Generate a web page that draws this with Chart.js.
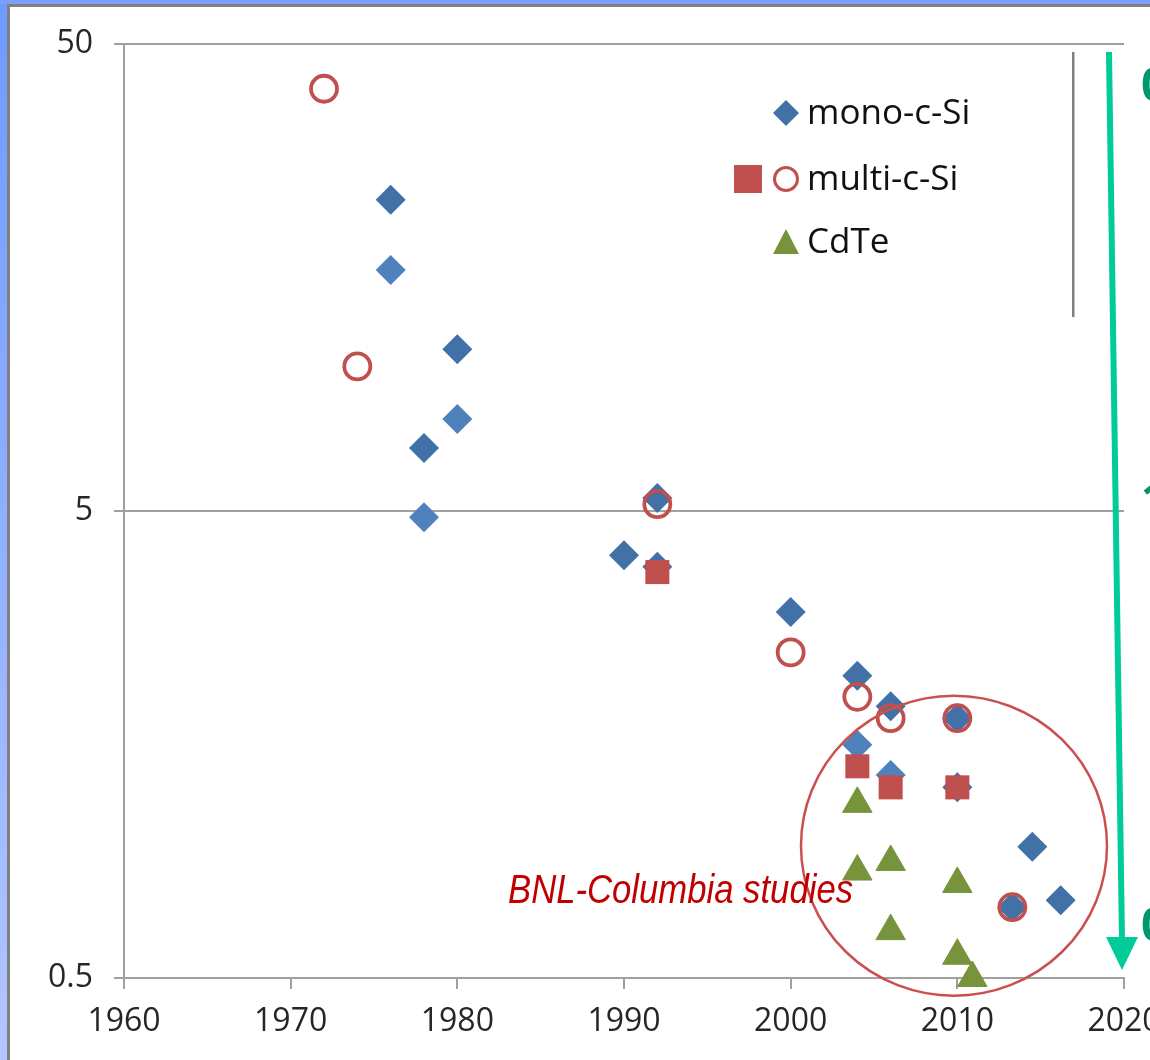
<!DOCTYPE html>
<html>
<head>
<meta charset="utf-8">
<script src="https://cdn.jsdelivr.net/npm/chart.js@4.4.1/dist/chart.umd.min.js"></script>
<style>
  body { margin: 0; background: #fff; }
  canvas { display: block; }
</style>
</head>
<body>
<canvas id="chart" width="1150" height="1060"></canvas>
<script>
// values (log y axis)
const monoYears = [1976, 1980, 1978, 1990, 1992, 1992, 2000, 2004, 2006, 2010, 2010, 2013.3, 2014.5, 2016.2];
const monoValues = [23.2, 11.1, 6.82, 4.02, 5.33, 3.80, 3.04, 2.22, 1.91, 1.80, 1.28, 0.709, 0.955, 0.734];
const monoLightYears = [1976, 1980, 1978, 2004, 2006];
const monoLightValues = [16.4, 7.87, 4.85, 1.58, 1.36];
const multiOpenYears = [1972, 1974, 1992, 2000, 2004, 2006, 2010, 2013.3];
const multiOpenValues = [40.1, 10.2, 5.17, 2.49, 2.00, 1.80, 1.80, 0.709];
const multiFilledYears = [1992, 2004, 2006, 2010];
const multiFilledValues = [3.70, 1.42, 1.28, 1.28];
const cdteYears = [2004, 2004, 2006, 2006, 2010, 2010, 2010.9];
const cdteValues = [1.18, 0.845, 0.886, 0.63, 0.795, 0.558, 0.5];
const yTicks = [0.5, 5, 50];
const legendLabels = ['mono-c-Si', 'multi-c-Si', 'CdTe'];

const BLUE = '#4171A7';
const BLUE_LIGHT = '#4F81BD';
const RED = '#C0504D';
const GREEN = '#77933C';
const FONT = "'Open Sans', 'Noto Sans', sans-serif";

function toPoints(xs, ys) {
  return xs.map((x, i) => ({ x: x, y: ys[i] }));
}

const decorations = {
  id: 'decorations',
  beforeDraw(chart) {
    const ctx = chart.ctx;
    ctx.save();
    ctx.fillStyle = '#fff';
    ctx.fillRect(0, 0, chart.width, chart.height);
    const grad = ctx.createLinearGradient(0, 0, 0, chart.height);
    grad.addColorStop(0, '#6E9AFF');
    grad.addColorStop(1, '#B2C6FF');
    ctx.fillStyle = grad;
    ctx.fillRect(0, 0, 7, chart.height);
    ctx.fillStyle = '#7B9FFF';
    ctx.fillRect(0, 0, chart.width, 4);
    ctx.fillStyle = '#808080';
    ctx.fillRect(7, 4, 3, chart.height);
    ctx.fillRect(7, 4, chart.width, 3);
    ctx.restore();
  },
  afterDraw(chart) {
    const ctx = chart.ctx;
    const x = chart.scales.x;
    const y = chart.scales.y;
    ctx.save();

    // circle around the BNL-Columbia points
    ctx.strokeStyle = '#CC4F4F';
    ctx.lineWidth = 2.5;
    ctx.beginPath();
    ctx.ellipse(x.getPixelForValue(2009.8), y.getPixelForValue(0.96), 153, 150, 0, 0, Math.PI * 2);
    ctx.stroke();

    // annotation text
    ctx.fillStyle = '#C00000';
    ctx.font = "italic 41px 'Liberation Sans', Arial, sans-serif";
    ctx.textBaseline = 'alphabetic';
    const txt = 'BNL-Columbia studies';
    const w = ctx.measureText(txt).width;
    ctx.save();
    ctx.translate(508, 903);
    ctx.scale(345 / w, 1);
    ctx.fillText(txt, 0, 0);
    ctx.restore();

    // legend box divider
    ctx.fillStyle = '#808080';
    ctx.fillRect(1072, 52, 2.5, 265);

    // legend
    const rows = [113, 179, 242];
    ctx.fillStyle = BLUE;
    ctx.beginPath();
    ctx.moveTo(786 - 13, rows[0]); ctx.lineTo(786, rows[0] - 13);
    ctx.lineTo(786 + 13, rows[0]); ctx.lineTo(786, rows[0] + 13);
    ctx.closePath(); ctx.fill();
    ctx.fillStyle = RED;
    ctx.fillRect(734, rows[1] - 14, 28, 28);
    ctx.strokeStyle = RED;
    ctx.lineWidth = 3;
    ctx.beginPath();
    ctx.arc(786, rows[1], 11.5, 0, Math.PI * 2);
    ctx.stroke();
    ctx.fillStyle = GREEN;
    ctx.beginPath();
    ctx.moveTo(773, rows[2] + 12); ctx.lineTo(786, rows[2] - 13); ctx.lineTo(799, rows[2] + 12);
    ctx.closePath(); ctx.fill();

    ctx.fillStyle = '#111';
    ctx.font = '35px ' + FONT;
    ctx.textBaseline = 'middle';
    legendLabels.forEach((lab, i) => ctx.fillText(lab, 807, rows[i] + 1));

    // green arrow
    ctx.strokeStyle = '#00CC99';
    ctx.fillStyle = '#00CC99';
    ctx.lineWidth = 6;
    ctx.beginPath();
    ctx.moveTo(1109, 52);
    ctx.lineTo(1122, 940);
    ctx.stroke();
    ctx.beginPath();
    ctx.moveTo(1106, 937);
    ctx.lineTo(1138, 937);
    ctx.lineTo(1122, 970);
    ctx.closePath();
    ctx.fill();

    // cut-off labels at the right edge
    ctx.fillStyle = '#00966E';
    ctx.font = 'bold 46px ' + FONT;
    ctx.textBaseline = 'middle';
    ctx.fillText('0', 1141, 88);
    ctx.fillText('1', 1141, 502);
    ctx.fillText('0', 1141, 928);
    ctx.restore();
  }
};

new Chart(document.getElementById('chart'), {
  type: 'scatter',
  data: {
    datasets: [
      {
        label: 'CdTe',
        data: toPoints(cdteYears, cdteValues),
        pointStyle: 'triangle',
        radius: 17,
        backgroundColor: GREEN,
        borderColor: GREEN,
        borderWidth: 1,
        order: 0,
        clip: false
      },
      {
        label: 'multi-c-Si',
        data: toPoints(multiFilledYears, multiFilledValues),
        pointStyle: 'rect',
        radius: 17,
        backgroundColor: RED,
        borderColor: RED,
        borderWidth: 0,
        order: 1,
        clip: false
      },
      {
        label: 'multi-c-Si open',
        data: toPoints(multiOpenYears, multiOpenValues),
        pointStyle: 'circle',
        radius: 13,
        backgroundColor: 'rgba(0,0,0,0)',
        borderColor: RED,
        borderWidth: 3.8,
        order: 2,
        clip: false
      },
      {
        label: 'mono-c-Si light',
        data: toPoints(monoLightYears, monoLightValues),
        pointStyle: 'rectRot',
        radius: 15,
        backgroundColor: BLUE_LIGHT,
        borderColor: BLUE_LIGHT,
        borderWidth: 0,
        order: 3,
        clip: false
      },
      {
        label: 'mono-c-Si',
        data: toPoints(monoYears, monoValues),
        pointStyle: 'rectRot',
        radius: 15,
        backgroundColor: BLUE,
        borderColor: BLUE,
        borderWidth: 0,
        order: 4,
        clip: false
      }
    ]
  },
  options: {
    responsive: false,
    animation: false,
    layout: { padding: { top: 44, right: 26, left: 0, bottom: 0 } },
    plugins: {
      legend: { display: false },
      tooltip: { enabled: false }
    },
    scales: {
      x: {
        type: 'linear',
        min: 1960,
        max: 2020,
        ticks: {
          stepSize: 10,
          color: '#262626',
          font: { family: FONT, size: 32 },
          padding: 14,
          callback: v => String(v)
        },
        grid: {
          drawOnChartArea: false,
          drawTicks: true,
          tickLength: 11,
          color: '#A0A0A0',
          lineWidth: 2
        },
        border: { color: '#A0A0A0', width: 2 },
        afterFit(scale) {
          scale.height = 82;
          scale.paddingLeft = 0;
          scale.paddingRight = 0;
        }
      },
      y: {
        type: 'logarithmic',
        min: 0.5,
        max: 50,
        afterBuildTicks(scale) {
          scale.ticks = yTicks.map(v => ({ value: v }));
        },
        ticks: {
          color: '#262626',
          font: { family: FONT, size: 32 },
          padding: 21,
          callback: v => String(v)
        },
        grid: {
          color: '#A0A0A0',
          lineWidth: 2,
          tickLength: 10
        },
        border: { color: '#A0A0A0', width: 2 },
        afterFit(scale) {
          scale.width = 124;
          scale.paddingTop = 0;
          scale.paddingBottom = 0;
        }
      }
    }
  },
  plugins: [decorations]
});
</script>
</body>
</html>
